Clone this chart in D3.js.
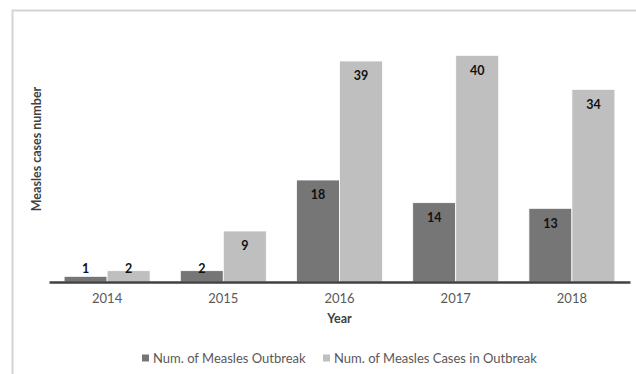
<!DOCTYPE html>
<html>
<head>
<meta charset="utf-8">
<script src="https://cdn.jsdelivr.net/npm/d3@7"></script>
<style>
	body { margin: 0; background: #fff; }
	text { font-family: Lato, 'Open Sans', sans-serif; }
</style>
</head>
<body>
<div id="chart"></div>
<script>
// NOTE chart data
var years = ['2014', '2015', '2016', '2017', '2018'];
var outbreaks = [1, 2, 18, 14, 13];
var cases = [2, 9, 39, 40, 34];
var seriesNames = ['Num. of Measles Outbreak', 'Num. of Measles Cases in Outbreak'];
var seriesColors = ['#767676', '#bfbfbf'];

var W = 636, H = 374;
var margin = { top: 27, right: 6, bottom: 92, left: 49 };
var width = W - margin.left - margin.right,
	height = H - margin.top - margin.bottom;

var svg = d3
	.select('#chart')
	.append('svg')
	.attr('width', W)
	.attr('height', H);

// frame
svg.append('path')
	.attr('d', 'M12.5,' + H + 'V10.5H' + W)
	.attr('fill', 'none')
	.attr('stroke', '#d4d4d4')
	.attr('stroke-width', 2);

var g = svg.append('g')
	.attr('transform', 'translate(' + margin.left + ',' + margin.top + ')');

var x = d3.scaleBand()
	.domain(years)
	.range([0, width])
	.paddingInner(0.26)
	.paddingOuter(0.13);

var x1 = d3.scaleBand()
	.domain([0, 1])
	.range([0, x.bandwidth()]);

var y = d3.scaleLinear()
	.domain([0, 45])
	.range([height, 0]);

var rows = [];
for (var i = 0; i < years.length; i++) {
	rows.push({ year: years[i], s: 0, v: outbreaks[i] });
	rows.push({ year: years[i], s: 1, v: cases[i] });
}

g.selectAll('rect.bar')
	.data(rows)
	.enter()
	.append('rect')
	.attr('class', 'bar')
	.attr('x', function (d) { return x(d.year) + x1(d.s); })
	.attr('y', function (d) { return y(d.v); })
	.attr('width', x1.bandwidth())
	.attr('height', function (d) { return y(0) - y(d.v); })
	.attr('fill', function (d) { return seriesColors[d.s]; })
	.attr('stroke', '#fff')
	.attr('stroke-width', 0.8);

g.selectAll('text.lbl')
	.data(rows)
	.enter()
	.append('text')
	.attr('class', 'lbl')
	.attr('x', function (d) { return x(d.year) + x1(d.s) + x1.bandwidth() / 2; })
	.attr('y', function (d) { return Math.min(y(d.v) + 15, y(0) - 13); })
	.attr('dy', '0.35em')
	.attr('text-anchor', 'middle')
	.attr('font-size', 12.5)
	.attr('font-weight', 'bold')
	.attr('fill', '#111')
	.text(function (d) { return d.v; });

// x axis
var xAxis = g.append('g')
	.attr('transform', 'translate(0,' + height + ')')
	.call(d3.axisBottom(x).tickSize(0).tickPadding(12));
xAxis.select('.domain').attr('stroke', '#404040').attr('stroke-width', 2.5);
xAxis.selectAll('text')
	.attr('font-size', 13)
	.attr('fill', '#595959')
	.style('font-family', 'Lato, sans-serif');

g.append('text')
	.attr('x', width / 2)
	.attr('y', height + 41)
	.attr('text-anchor', 'middle')
	.attr('font-size', 12.5)
	.attr('font-weight', 'bold')
	.attr('fill', '#404040')
	.text('Year');

g.append('text')
	.attr('transform', 'translate(' + (37 - margin.left) + ',' + (149 - margin.top) + ') rotate(-90)')
	.attr('text-anchor', 'middle')
	.attr('dy', '0.35em')
	.attr('font-size', 12.5)
	.attr('font-weight', 'bold')
	.attr('fill', '#404040')
	.text('Measles cases number');

// legend
var legendX = [142, 323];
var legend = svg.selectAll('g.leg')
	.data(seriesNames)
	.enter()
	.append('g')
	.attr('class', 'leg')
	.attr('transform', function (d, i) { return 'translate(' + legendX[i] + ',358)'; });
legend.append('rect')
	.attr('x', 0)
	.attr('y', -3.5)
	.attr('width', 7)
	.attr('height', 7)
	.attr('fill', function (d, i) { return seriesColors[i]; });
legend.append('text')
	.attr('x', 11)
	.attr('dy', '0.35em')
	.attr('font-size', 13)
	.attr('fill', '#595959')
	.text(function (d) { return d; });
</script>
</body>
</html>
